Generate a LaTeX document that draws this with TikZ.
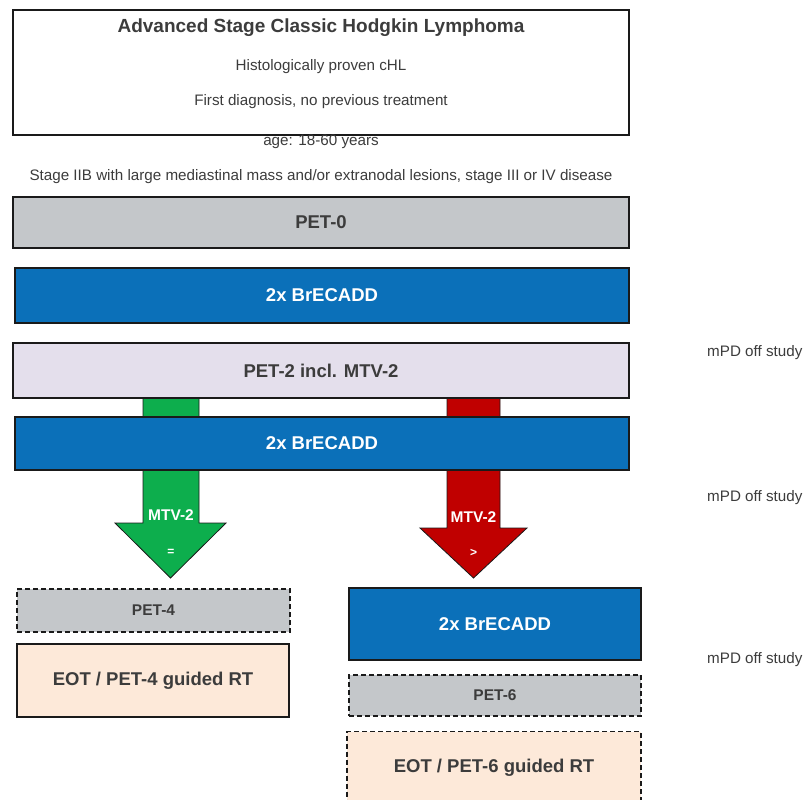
\documentclass[tikz,border=0pt]{standalone}
\usepackage{fontspec}
\setmainfont{Liberation Sans}
\usetikzlibrary{positioning}
\definecolor{boxgrey}{HTML}{C4C7CA}
\definecolor{boxblue}{HTML}{0B70B9}
\definecolor{boxlav}{HTML}{E4DFEC}
\definecolor{boxpeach}{HTML}{FDE9D9}
\definecolor{arrgreen}{HTML}{0DAE4D}
\definecolor{arrred}{HTML}{C00000}
\definecolor{txtgrey}{HTML}{3C3C3C}
\definecolor{edge}{HTML}{1A1A1A}
\tikzset{
  x=1pt, y=-1pt,
  box/.style={draw=edge, line width=1.5pt, inner sep=0pt, align=center},
  dashbox/.style={box, dash pattern=on 5pt off 3pt},
  bigtxt/.style={font=\fontsize{18.5}{22}\selectfont\bfseries},
  smalltxt/.style={font=\fontsize{15.2}{18}\selectfont},
  smallbold/.style={font=\fontsize{15.5}{18}\selectfont\bfseries},
  arrowshape/.style={draw=edge, line width=0.8pt},
  arrlbl/.style={text=white, font=\fontsize{15.5}{18}\selectfont\bfseries, inner sep=0pt},
  sidetxt/.style={text=txtgrey, font=\fontsize{15.2}{18}\selectfont, anchor=west, inner sep=0pt},
}
\begin{document}
\begin{tikzpicture}
\useasboundingbox (0,0) rectangle (803,800);
\fill[white] (0,0) rectangle (803,800);

% arrows (behind boxes)
\draw[arrowshape, fill=arrgreen] (143,398) -- (199,398) -- (199,523) -- (226,523) -- (170.5,578) -- (115,523) -- (143,523) -- cycle;
\draw[arrowshape, fill=arrred] (447,398) -- (500,398) -- (500,528) -- (527,528) -- (473.5,578) -- (420,528) -- (447,528) -- cycle;

% top box
\node[box, fill=white, minimum width=616pt, minimum height=125pt] (top) at (321,72.5) {};
\node[text=txtgrey, font=\fontsize{19}{22}\selectfont\bfseries, inner sep=0pt] (title) at (321,28) {Advanced Stage Classic Hodgkin Lymphoma};
\node[smalltxt, text=txtgrey, inner sep=0pt] (hist) at (321,67) {Histologically proven cHL};
\node[smalltxt, text=txtgrey, inner sep=0pt] (first) at (321,102) {First diagnosis, no previous treatment};
\node[smalltxt, text=txtgrey, inner sep=0pt] (age) at (321,141.5) {age: 18-60 years};
\node[smalltxt, text=txtgrey, inner sep=0pt] (stage) at (321,177) {Stage IIB with large mediastinal mass and/or extranodal lesions, stage III or IV disease};

% main column
\node[box, fill=boxgrey, text=txtgrey, bigtxt, minimum width=616pt, minimum height=51pt] (pet0) at (321,222.5) {PET-0};
\node[box, fill=boxblue, text=white, bigtxt, minimum width=614pt, minimum height=55pt] (br1) at (322,295.5) {2x BrECADD};
\node[box, fill=boxlav, text=txtgrey, bigtxt, minimum width=616pt, minimum height=55pt] (pet2) at (321,370.5) {PET-2 incl. MTV-2};
\node[box, fill=boxblue, text=white, bigtxt, minimum width=614pt, minimum height=53pt] (br2) at (322,443.5) {2x BrECADD};

% arrow labels
\node[arrlbl] (mtvg) at (171,515) {MTV-2};
\node[arrlbl, font=\fontsize{12}{14}\selectfont\bfseries] (eqg) at (171,552) {=};
\node[arrlbl] (mtvr) at (473.5,517) {MTV-2};
\node[arrlbl, font=\fontsize{12}{14}\selectfont\bfseries] (gtr) at (473.5,553) {>};

% left branch
\node[dashbox, fill=boxgrey, text=txtgrey, smallbold, minimum width=273pt, minimum height=43pt] (pet4) at (153.5,610.5) {PET-4};
\node[box, fill=boxpeach, text=txtgrey, bigtxt, minimum width=272pt, minimum height=73pt] (eot4) at (153,680.5) {EOT / PET-4 guided RT};

% right branch
\node[box, fill=boxblue, text=white, bigtxt, minimum width=292pt, minimum height=72pt] (br3) at (495,624) {2x BrECADD};
\node[dashbox, fill=boxgrey, text=txtgrey, smallbold, minimum width=292pt, minimum height=41pt] (pet6) at (495,695.5) {PET-6};
\node[dashbox, fill=boxpeach, text=txtgrey, bigtxt, minimum width=294pt, minimum height=72pt] (eot6) at (494,767.5) {EOT / PET-6 guided RT};

% side notes
\node[sidetxt] (mpd1) at (707,353) {mPD off study};
\node[sidetxt] (mpd2) at (707,498) {mPD off study};
\node[sidetxt] (mpd3) at (707,660) {mPD off study};
\end{tikzpicture}
\end{document}
